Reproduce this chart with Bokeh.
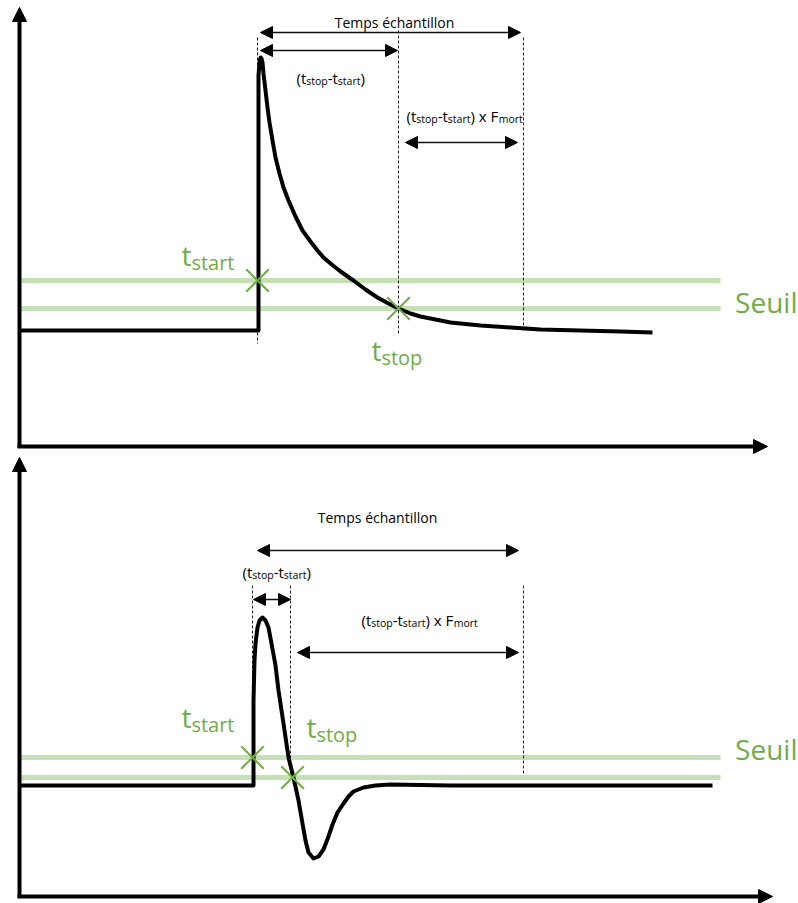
from bokeh.plotting import figure
from bokeh.models import Range1d, Arrow, NormalHead, ColumnDataSource
from bokeh.core.properties import value
from bokeh.embed import file_html
from bokeh.resources import INLINE

# ---------------- data (reference pixel coordinates, y downwards) ----------------
# top panel signal (slow decay)
top_x = [19, 258, 258, 259, 260, 261, 262, 263, 265, 267, 269, 272, 275, 279, 283, 288, 295, 302,
         310, 317, 323, 330, 340, 353, 365, 377, 388, 398, 410, 420, 430, 450, 480, 510, 540,
         580, 620, 652]
top_y = [330, 330, 75, 62, 57, 58, 62, 73, 90, 107, 122, 140, 157, 173, 187, 200, 216, 230,
         241, 250, 257, 263, 271, 280, 289, 297, 303, 308, 313, 316, 318, 322, 325, 327, 329,
         330, 331, 332]
# bottom panel signal (oscillation)
bot_x = [19, 253, 253, 254, 255, 257, 259, 262, 265, 268, 271, 275, 278, 283, 288, 293, 298, 302,
         305, 308, 313, 318, 323, 328, 332, 337, 343, 348, 353, 363, 375, 390, 450, 712]
bot_y = [785, 785, 700, 660, 643, 627, 620, 617, 620, 627, 643, 665, 690, 723, 757, 777, 800, 823,
         840, 852, 858, 856, 849, 836, 824, 812, 803, 796, 791, 787, 785, 784, 785, 785]

# thresholds (Seuil)
seuil_top = [280, 308]
seuil_bot = [757, 777]
seuil_x = [19, 720]

# crossing markers
cross_x = [257, 398, 252, 292]
cross_y = [280, 308, 757, 777]

# dashed guide lines
dash_x = [257, 398, 523, 252, 290, 523]
dash_y0 = [37, 30, 37, 585, 585, 585]
dash_y1 = [343, 333, 330, 770, 775, 775]

# dimension arrows
dim_x0 = [260, 260, 405, 257, 253, 297]
dim_x1 = [520, 397, 517, 518, 290, 518]
dim_y = [32, 50, 142, 550, 599, 652]

# axes (x0, y0, x1, y1) : arrow from origin to tip
axis_x0 = [19, 17, 19, 17]
axis_y0 = [447, 446, 897, 896]
axis_x1 = [19, 767, 19, 772]
axis_y1 = [7, 446, 457, 896]

GREEN = "#70ad47"
LIGHT_GREEN = "#c5e0b4"
FONT = "Open Sans"

W, H = 798, 903
X0, X1 = 0, 798
Y0, Y1 = 0, 903
PXU = (X1 - X0) / W  # data units per screen px (x)

p = figure(width=W, height=H, x_range=Range1d(X0, X1), y_range=Range1d(Y1, Y0),
           output_backend="svg", toolbar_location=None, min_border=0,
           x_axis_location=None, y_axis_location=None)
p.grid.visible = False
p.outline_line_color = None
p.background_fill_color = "white"
p.border_fill_color = "white"

# threshold lines
for yv in seuil_top + seuil_bot:
    p.line(x=seuil_x, y=[yv, yv], line_color=LIGHT_GREEN, line_width=5)

# dashed guides
p.segment(x0=dash_x, y0=dash_y0, x1=dash_x, y1=dash_y1, line_color="#222222",
          line_width=1, line_dash="3 2")

# signals
p.line(x=top_x, y=top_y, line_color="black", line_width=4, line_join="round")
p.line(x=bot_x, y=bot_y, line_color="black", line_width=4, line_join="round")

# crosses
p.scatter(x=cross_x, y=cross_y, marker="x", size=32, line_color=GREEN, line_width=2)

# axes
for a, b, c, d in zip(axis_x0, axis_y0, axis_x1, axis_y1):
    p.add_layout(Arrow(x_start=a, y_start=b, x_end=c, y_end=d, line_width=4, line_color="black",
                       end=NormalHead(size=14, fill_color="black", line_color="black", line_width=1)))

# dimension arrows
for a, b, yv in zip(dim_x0, dim_x1, dim_y):
    p.add_layout(Arrow(x_start=a, y_start=yv, x_end=b, y_end=yv, line_width=1.5, line_color="#111111",
                       start=NormalHead(size=12, fill_color="black", line_color="black", line_width=1),
                       end=NormalHead(size=12, fill_color="black", line_color="black", line_width=1)))

# ---------------- texts ----------------
CW = {' ': 0.26, '(': 0.296, ')': 0.296, '-': 0.322, 'a': 0.556, 'c': 0.476, 'e': 0.561,
      'é': 0.561, 'h': 0.614, 'i': 0.252, 'l': 0.252, 'm': 0.93, 'n': 0.614, 'o': 0.604,
      'p': 0.614, 'r': 0.409, 's': 0.477, 't': 0.353, 'u': 0.614, 'x': 0.524, 'F': 0.548,
      'S': 0.539, 'T': 0.557}


def tw(s, size):
    return sum(CW.get(ch, 0.55) for ch in s) * size


tx, ty, tt, tf, tc = [], [], [], [], []


def rich(x, y, segs, main, sub, dy, color):
    cx = x
    for s, kind in segs:
        size = main if kind == "m" else sub
        tx.append(cx)
        ty.append(y if kind == "m" else y + dy)
        tt.append(s)
        tf.append(f"{size}px")
        tc.append(color)
        cx += tw(s, size) * PXU


DT = [("(t", "m"), ("stop", "s"), ("-t", "m"), ("start", "s"), (")", "m")]
DTF = [("(t", "m"), ("stop", "s"), ("-t", "m"), ("start", "s"), (") x F", "m"), ("mort", "s")]
TSTART = [("t", "m"), ("start", "s")]
TSTOP = [("t", "m"), ("stop", "s")]

rich(296, 77, DT, 15, 10.5, 3, "black")
rich(406, 115, DTF, 15, 10.5, 3, "black")
rich(242, 571, DT, 15, 10.5, 3, "black")
rich(361, 619, DTF, 15, 10.5, 3, "black")
rich(181, 254, TSTART, 28, 20, 8, GREEN)
rich(371, 349, TSTOP, 28, 20, 8, GREEN)
rich(181, 716, TSTART, 28, 20, 8, GREEN)
rich(306, 726, TSTOP, 28, 20, 8, GREEN)

src = ColumnDataSource(dict(x=tx, y=ty, t=tt, fs=tf, c=tc))
p.text(x="x", y="y", text="t", text_font_size="fs", text_color="c", source=src,
       text_font=value(FONT), text_baseline="alphabetic", text_align="left")

# titles and Seuil
title_x = [394, 377]
title_y = [22, 517]
p.text(x=title_x, y=title_y, text=["Temps échantillon", "Temps échantillon"],
       text_font=value(FONT), text_font_size="14px", text_color="black",
       text_align="center", text_baseline="alphabetic")

seuil_lbl_y = [301, 748]
p.text(x=[797, 797], y=seuil_lbl_y, text=["Seuil", "Seuil"], text_font=value(FONT),
       text_font_size="28px", text_color=GREEN, text_align="right", text_baseline="alphabetic")

open("out.html", "w").write(file_html(p, INLINE))
